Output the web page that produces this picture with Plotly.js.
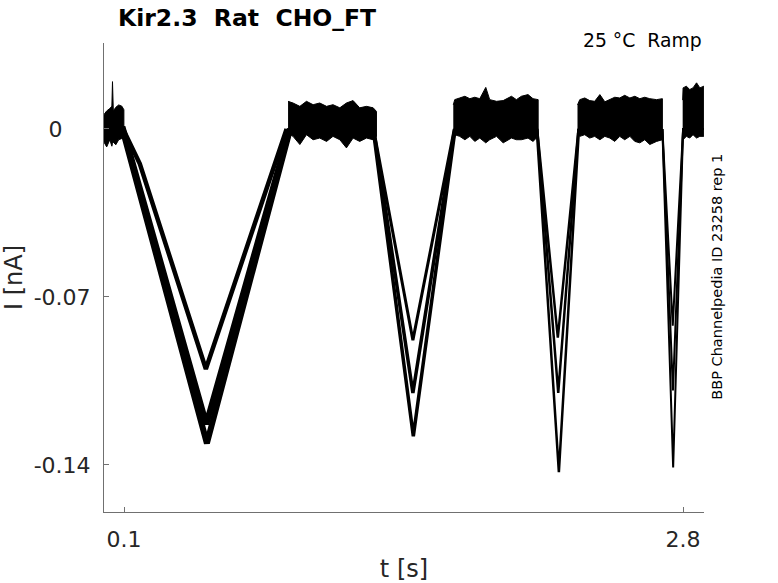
<!DOCTYPE html>
<html>
<head>
<meta charset="utf-8">
<script src="https://cdn.plot.ly/plotly-3.0.1.min.js"></script>
<style>
  html, body { margin: 0; padding: 0; background: #fff; }
  #chart { width: 778px; height: 583px; }
</style>
</head>
<body>
<div id="chart"></div>
<script>
// ------------------------------------------------------------
// data (t in s, I in nA)
// ------------------------------------------------------------

// three sweeps: shallow (A), middle (B), deep (C)
const sweepT_A = [0.003, 0.095, 0.176, 0.495, 0.885, 1.305, 1.495, 1.695, 2.095, 2.195, 2.295, 2.700, 2.750, 2.800, 2.901]
const sweepI_A = [0, 0, -0.0145, -0.100, 0, 0, -0.088, 0, 0, -0.087, 0, 0, -0.082, 0, 0]

const sweepT_B = [0.003, 0.095, 0.497, 0.900, 1.305, 1.495, 1.697, 2.095, 2.197, 2.295, 2.700, 2.751, 2.800, 2.901]
const sweepI_B = [0, 0, -0.123, 0, 0, -0.110, 0, 0, -0.110, 0, 0, -0.109, 0, 0]

const sweepT_C = [0.003, 0.092, 0.500, 0.902, 1.303, 1.497, 1.699, 2.093, 2.200, 2.297, 2.700, 2.752, 2.800, 2.901]
const sweepI_C = [0, 0, -0.131, 0, 0, -0.128, 0, 0, -0.143, 0, 0, -0.141, 0, 0]

// noise envelope of the flat (holding) parts, upper and lower edge
const noiseT1   = [0.003, 0.016, 0.031, 0.041, 0.044, 0.048, 0.060, 0.074, 0.089, 0.099]
const noiseTop1 = [0.0060, 0.0075, 0.0085, 0.0095, 0.0197, 0.0075, 0.0090, 0.0100, 0.0095, 0.0080]
const noiseBot1 = [-0.0055, -0.0075, -0.0045, -0.0072, -0.0060, -0.0055, -0.0066, -0.0045, -0.0040, -0.0025]

const noiseT2   = [0.892, 0.916, 0.949, 0.981, 1.013, 1.045, 1.078, 1.109, 1.142, 1.174, 1.206, 1.238, 1.271, 1.303, 1.319]
const noiseTop2 = [0.0115, 0.0108, 0.0094, 0.0115, 0.0101, 0.0108, 0.0094, 0.0101, 0.0088, 0.0108, 0.0118, 0.0088, 0.0094, 0.0088, 0.0073]
const noiseBot2 = [-0.0017, -0.0031, -0.0065, -0.0024, -0.0045, -0.0038, -0.0052, -0.0031, -0.0045, -0.0079, -0.0038, -0.0052, -0.0038, -0.0045, -0.0031]

const noiseT3   = [1.690, 1.697, 1.721, 1.746, 1.770, 1.794, 1.818, 1.847, 1.866, 1.899, 1.931, 1.971, 1.995, 2.019, 2.051, 2.075, 2.100]
const noiseTop3 = [0.0100, 0.0122, 0.0129, 0.0136, 0.0126, 0.0132, 0.0126, 0.0173, 0.0122, 0.0115, 0.0118, 0.0136, 0.0122, 0.0136, 0.0143, 0.0126, 0.0122]
const noiseBot3 = [-0.0020, -0.0024, -0.0031, -0.0045, -0.0031, -0.0052, -0.0038, -0.0058, -0.0045, -0.0031, -0.0058, -0.0038, -0.0045, -0.0045, -0.0038, -0.0052, -0.0031]

const noiseT4   = [2.290, 2.301, 2.325, 2.349, 2.373, 2.398, 2.422, 2.446, 2.470, 2.494, 2.518, 2.543, 2.567, 2.591, 2.615, 2.639, 2.672, 2.700]
const noiseTop4 = [0.0100, 0.0122, 0.0129, 0.0118, 0.0115, 0.0143, 0.0113, 0.0122, 0.0132, 0.0129, 0.0140, 0.0129, 0.0136, 0.0126, 0.0132, 0.0126, 0.0122, 0.0126]
const noiseBot4 = [-0.0020, -0.0031, -0.0024, -0.0038, -0.0031, -0.0045, -0.0031, -0.0038, -0.0052, -0.0031, -0.0045, -0.0031, -0.0052, -0.0058, -0.0045, -0.0065, -0.0052, -0.0045]

const noiseT5   = [2.798, 2.800, 2.816, 2.832, 2.848, 2.865, 2.881, 2.900]
const noiseTop5 = [0.0120, 0.0171, 0.0178, 0.0164, 0.0171, 0.0192, 0.0171, 0.0178]
const noiseBot5 = [-0.0030, -0.0045, -0.0031, -0.0038, -0.0024, -0.0038, -0.0031, -0.0031]

const xTickVals = [0.1, 2.8]
const xTickText = ['0.1', '2.8']
const yTickVals = [-0.14, -0.07, 0]
// the 0 label sits further left in the original, it is padded there
const yTickText = ['-0.14', '-0.07', '0\u00a0\u00a0\u00a0\u00a0']

// ------------------------------------------------------------
// traces
// ------------------------------------------------------------

// each sweep is cut into its four ramps; the slow ramps look thicker
// because of the noise, the fast ones thinner
const dipRanges = [[0, 1.1], [1.1, 1.9], [1.9, 2.5], [2.5, 3]]
const widthsA = [4.5, 3, 2.5, 2]
const widthsBC = [6, 3.5, 2.5, 2]

function sweepPieces(t, I, widths) {
    const out = []
    dipRanges.forEach(function (r, k) {
        const xs = [], ys = []
        for (let i = 0; i < t.length; i++) {
            if (t[i] >= r[0] && t[i] < r[1]) { xs.push(t[i]); ys.push(I[i]) }
        }
        out.push({
            x: xs, y: ys, type: 'scatter', mode: 'lines',
            line: { color: '#000', width: widths[k] },
            hoverinfo: 'skip', showlegend: false
        })
    })
    return out
}

function noiseBand(t, top, bot) {
    return {
        x: t.concat(t.slice().reverse()),
        y: top.concat(bot.slice().reverse()),
        type: 'scatter', mode: 'lines', fill: 'toself',
        fillcolor: '#000', line: { color: '#000', width: 1 },
        hoverinfo: 'skip', showlegend: false
    }
}

const traces = [].concat(
    sweepPieces(sweepT_A, sweepI_A, widthsA),
    sweepPieces(sweepT_B, sweepI_B, widthsBC),
    sweepPieces(sweepT_C, sweepI_C, widthsBC),
    [noiseBand(noiseT1, noiseTop1, noiseBot1),
     noiseBand(noiseT2, noiseTop2, noiseBot2),
     noiseBand(noiseT3, noiseTop3, noiseBot3),
     noiseBand(noiseT4, noiseTop4, noiseBot4),
     noiseBand(noiseT5, noiseTop5, noiseBot5)]
)

// ------------------------------------------------------------
// layout
// ------------------------------------------------------------
const font = 'DejaVu Sans, sans-serif'
const axisCol = '#707070'
const textCol = '#262626'

const layout = {
    width: 778,
    height: 583,
    margin: { l: 104, r: 74, t: 43, b: 71, pad: 0 },
    paper_bgcolor: '#fff',
    plot_bgcolor: '#fff',
    font: { family: font, color: textCol },
    title: {
        text: '<b>Kir2.3  Rat  CHO_FT</b>',
        font: { family: font, size: 23.5, color: '#000' },
        xref: 'container', x: 118 / 778, xanchor: 'left',
        yref: 'container', y: 1 - 18 / 583, yanchor: 'middle'
    },
    xaxis: {
        range: [0.003, 2.901],
        tickvals: xTickVals, ticktext: xTickText,
        ticks: 'inside', ticklen: 5, tickwidth: 1, tickcolor: axisCol,
        showline: true, linecolor: axisCol, linewidth: 1,
        showgrid: false, zeroline: false,
        tickfont: { family: font, size: 22, color: textCol },
        ticklabelstandoff: 8,
        title: { text: 't [s]', font: { family: font, size: 24, color: textCol }, standoff: 14 }
    },
    yaxis: {
        range: [-0.1596, 0.0358],
        tickvals: yTickVals, ticktext: yTickText,
        ticks: 'inside', ticklen: 5, tickwidth: 1, tickcolor: axisCol,
        showline: true, linecolor: axisCol, linewidth: 1,
        showgrid: false, zeroline: false,
        tickfont: { family: font, size: 22, color: textCol },
        ticklabelstandoff: 8,
        title: { text: 'I [nA]', font: { family: font, size: 24, color: textCol }, standoff: 12 }
    },
    annotations: [
        {
            text: '25 °C  Ramp', xref: 'paper', yref: 'paper',
            x: (703.5 - 104) / 600, y: (512.3 - 41) / 469, xanchor: 'right', yanchor: 'middle',
            showarrow: false, font: { family: font, size: 18.8, color: '#000' }
        },
        {
            text: 'BBP Channelpedia ID 23258 rep 1', xref: 'paper', yref: 'paper',
            x: (717.5 - 104) / 600, y: (512.3 - 277.5) / 469, xanchor: 'center', yanchor: 'middle',
            textangle: -90, showarrow: false, font: { family: font, size: 14.5, color: '#000' }
        }
    ]
}

Plotly.newPlot('chart', traces, layout, { staticPlot: true, displayModeBar: false })
</script>
</body>
</html>
